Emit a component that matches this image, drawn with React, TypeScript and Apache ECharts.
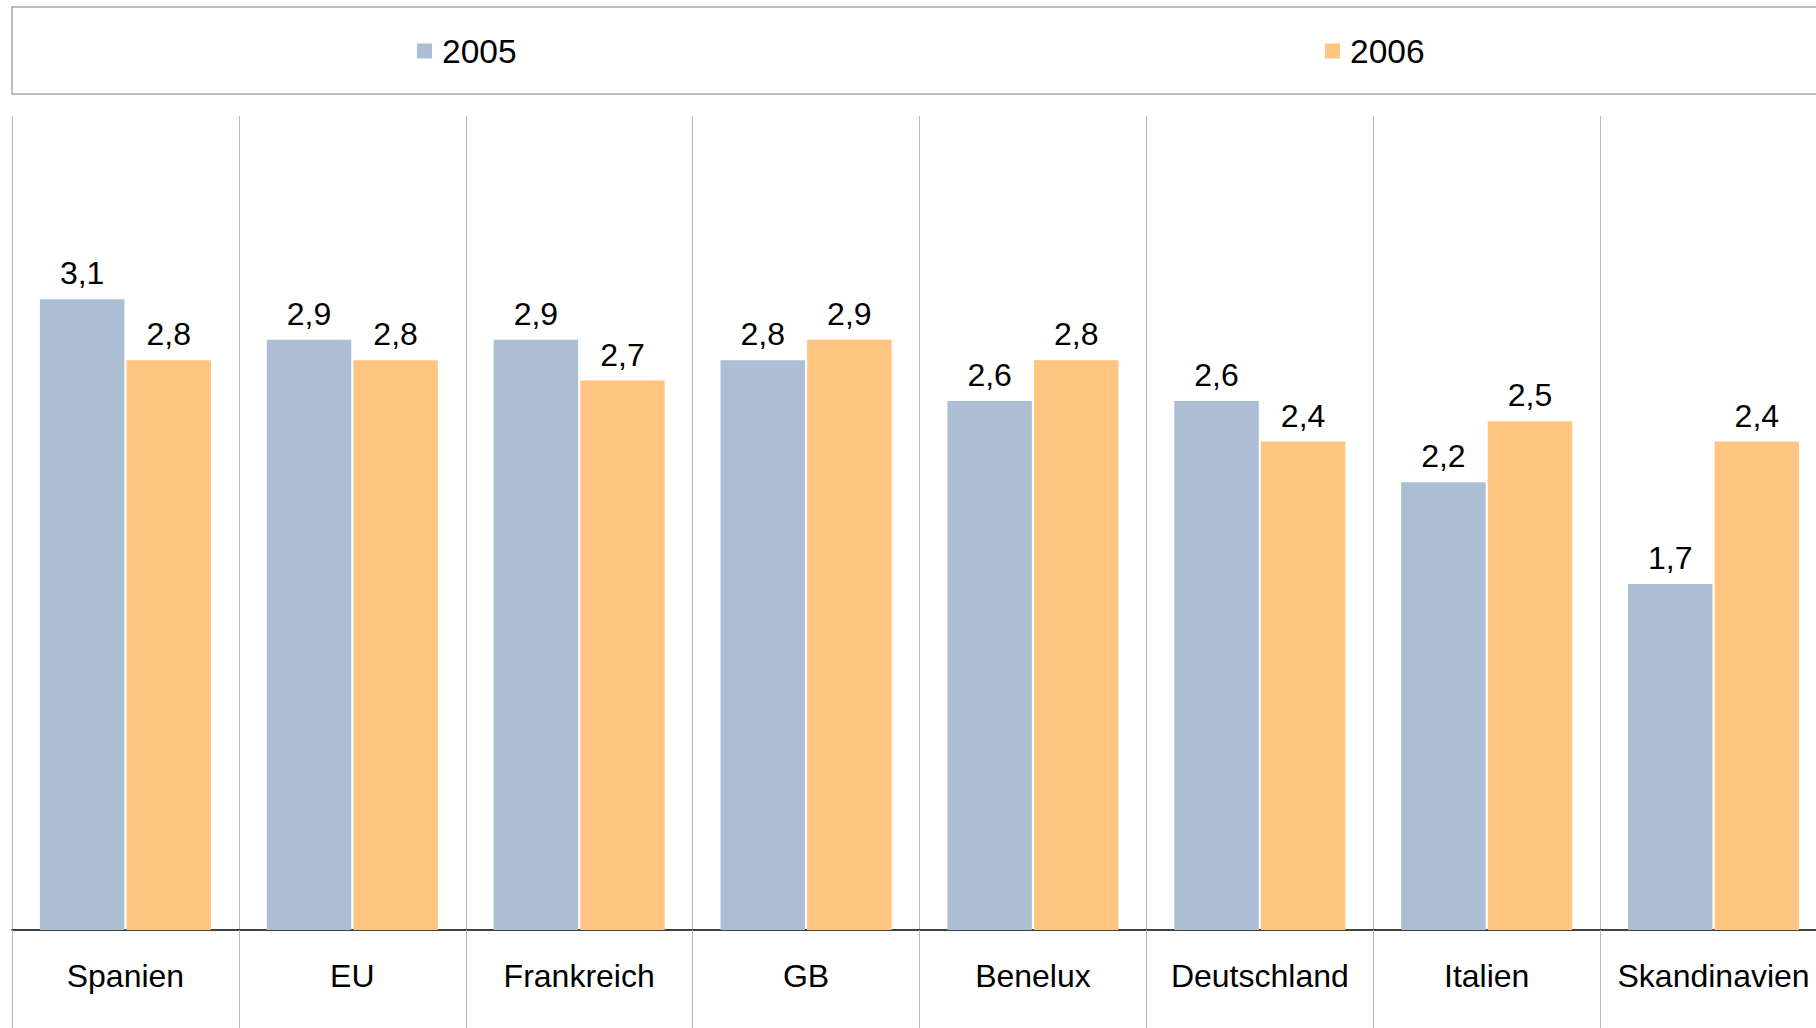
import React, { useEffect, useRef } from "react";
import * as echarts from "echarts";

const categories = ["Spanien", "EU", "Frankreich", "GB", "Benelux", "Deutschland", "Italien", "Skandinavien"];
const seriesNames = ["2005", "2006"];
const values2005 = [3.1, 2.9, 2.9, 2.8, 2.6, 2.6, 2.2, 1.7];
const values2006 = [2.8, 2.8, 2.7, 2.9, 2.8, 2.4, 2.5, 2.4];

const FONT = "'Liberation Sans', Arial, sans-serif";
const BLUE = "#ABBED4";
const ORANGE = "#FFC581";
const GRID_GREY = "#B8B8B8";

const fmt = (p: any) => Number(p.value).toFixed(1).replace(".", ",");

export default function App() {
  const ref = useRef<HTMLDivElement>(null);
  useEffect(() => {
    document.body.style.margin = "0";
    document.body.style.overflow = "hidden";
    if (!ref.current) return;
    const chart = echarts.init(ref.current, null, { renderer: "svg" });
    const legendCommon = {
      orient: "horizontal",
      icon: "rect",
      itemWidth: 15,
      itemHeight: 15,
      padding: 0,
      top: 34,
      textStyle: { fontFamily: FONT, fontSize: 33.5, color: "#000", padding: [0, 0, 0, 5] },
    };
    chart.setOption({
      animation: false,
      backgroundColor: "#fff",
      legend: [
        { ...legendCommon, left: 417, data: [seriesNames[0]] },
        { ...legendCommon, left: 1325, data: [seriesNames[1]] },
      ],
      graphic: [
        {
          type: "rect",
          shape: { x: 12, y: 7, width: 1860, height: 87 },
          style: { fill: "none", stroke: "#A6A6A6", lineWidth: 1.5 },
          silent: true,
        },
      ],
      grid: { left: 12, top: 116, width: 1815, height: 814, containLabel: false },
      xAxis: {
        type: "category",
        data: categories,
        boundaryGap: true,
        axisLine: { show: true, lineStyle: { color: "#000", width: 1.5 } },
        axisTick: { show: true, interval: 0, length: 98, alignWithLabel: false, lineStyle: { color: GRID_GREY, width: 1 } },
        splitLine: { show: true, interval: 0, lineStyle: { color: GRID_GREY, width: 1 } },
        axisLabel: { interval: 0, margin: 30, fontFamily: FONT, fontSize: 32, color: "#000" },
      },
      yAxis: {
        type: "value",
        min: 0,
        max: 4,
        show: false,
        splitLine: { show: false },
      },
      series: [
        {
          name: seriesNames[0],
          type: "bar",
          data: values2005,
          itemStyle: { color: BLUE },
          barCategoryGap: "24.6%",
          barGap: "2.5%",
          label: { show: true, position: "top", distance: 10, formatter: fmt, fontFamily: FONT, fontSize: 32, color: "#000" },
        },
        {
          name: seriesNames[1],
          type: "bar",
          data: values2006,
          itemStyle: { color: ORANGE },
          barCategoryGap: "24.6%",
          barGap: "2.5%",
          label: { show: true, position: "top", distance: 10, formatter: fmt, fontFamily: FONT, fontSize: 32, color: "#000" },
        },
      ],
    });
    return () => chart.dispose();
  }, []);
  return (
    <div style={{ position: "absolute", left: 0, top: 0, width: 1816, height: 1028, overflow: "hidden" }}>
      <div ref={ref} style={{ width: 1860, height: 1028 }} />
    </div>
  );
}
